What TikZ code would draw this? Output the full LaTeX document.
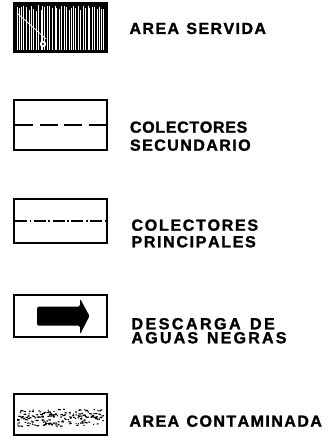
\documentclass[tikz,border=0pt]{standalone}
\usepackage{fontspec}
\setmainfont{Liberation Sans}
\makeatletter
\def\lsfirst#1{#1\lsloop}
\def\lsloop#1{\ifx#1\relax\else\kern\lsamt#1\expandafter\lsloop\fi}
\newcommand\lsword[2]{\def\lsamt{#1}\lsfirst#2\relax}
\makeatother
\newcommand\lsone[3]{\resizebox{#1pt}{!}{\lsword{#2pt}{#3}}}
\newcommand\lstwo[4]{\resizebox{#1pt}{!}{\lsword{#2pt}{#3}\kern#2pt\ \kern#2pt\lsword{#2pt}{#4}}}
\newcommand\twolines[3]{\vbox{\baselineskip=#1pt\lineskiplimit=-30pt\lineskip=0pt\hbox{#2}\hbox{#3}}}
\begin{document}
\begin{tikzpicture}[x=1pt,y=-1pt,
  legbox/.style={draw=black,line width=1.3pt,minimum width=93pt,minimum height=#1,inner sep=0pt,outer sep=0pt},
  lbl/.style={anchor=base west,inner sep=0pt,outer sep=0pt,font=\fontsize{16.5}{16.5}\selectfont\bfseries\addfontfeature{FakeBold=1.5}}]
\useasboundingbox (0,0) rectangle (336,446);
% box 1: area servida
\node[legbox=49pt,fill=black] (b1) at (60.5,27.5) {};
\pgfmathsetseed{11}
\foreach \k in {0,...,38}{
  \pgfmathsetmacro\xx{17+\k*2.35+0.5*rand}
  \pgfmathsetmacro\ww{0.35+0.75*rnd}
  \pgfmathsetmacro\ya{5+6*rnd}
  \draw[white,line width=\ww pt] (\xx,\ya) -- (\xx,50);
}
\draw[white,line width=0.8pt] (17,13) -- (46,39);
\fill[white] (43,44) circle (3.2pt);
\fill[black] (43,44) circle (1.2pt);
\draw[black,line width=1.3pt] (b1.north west) rectangle (b1.south east);
\node[lbl] (t1) at (129.5,34) {\lstwo{136.5}{1.44}{AREA}{SERVIDA}};
% box 2: colectores secundario
\node[legbox=50pt] (b2) at (60.5,125) {};
\draw[line width=2.4pt,dash pattern=on 18pt off 6.5pt] ([xshift=1pt]b2.west) -- (b2.east);
\node[lbl] (t2) at (130,150.7) {\twolines{18}{\lsone{117.3}{0.69}{COLECTORES}}{\lsone{120.7}{1.46}{SECUNDARIO}}};
% box 3: colectores principales
\node[legbox=44pt] (b3) at (60.5,221) {};
\draw[line width=1.8pt,dash pattern=on 12pt off 2.5pt on 1.8pt off 2.5pt] ([xshift=1pt]b3.west) -- (b3.east);
\node[lbl] (t3) at (131.5,247.3) {\twolines{16.6}{\lsone{126.6}{1.72}{COLECTORES}}{\lsone{124.3}{1.67}{PRINCIPALES}}};
% box 4: descarga de aguas negras
\node[legbox=42pt] (b4) at (60.5,316) {};
\fill[black,rounded corners=1.5pt] (37,306.5) -- (80,306.5) -- (80,298.5) -- (89.5,316) -- (80,334.5) -- (80,325.5) -- (37,325.5) -- cycle;
\node[lbl] (t4) at (131.5,343.3) {\twolines{14}{\lstwo{143.3}{2.5}{DESCARGA}{DE}}{\lstwo{155}{2.2}{AGUAS}{NEGRAS}}};
% box 5: area contaminada
\node[legbox=41pt] (b5) at (60.5,414.5) {};
\pgfmathsetseed{5}
\foreach \k in {1,...,175}{
  \pgfmathsetmacro\xx{16+87*rnd}
  \pgfmathsetmacro\yy{409+17*rnd}
  \pgfmathsetmacro\ll{0.8+2.2*rnd}
  \pgfmathsetmacro\dy{0.6*rand}
  \draw[line width=1.1pt] (\xx,\yy) -- ++(\ll,\dy);
}
\node[lbl] (t5) at (129.5,426.7) {\lstwo{192.4}{1.45}{AREA}{CONTAMINADA}};
\end{tikzpicture}
\end{document}
